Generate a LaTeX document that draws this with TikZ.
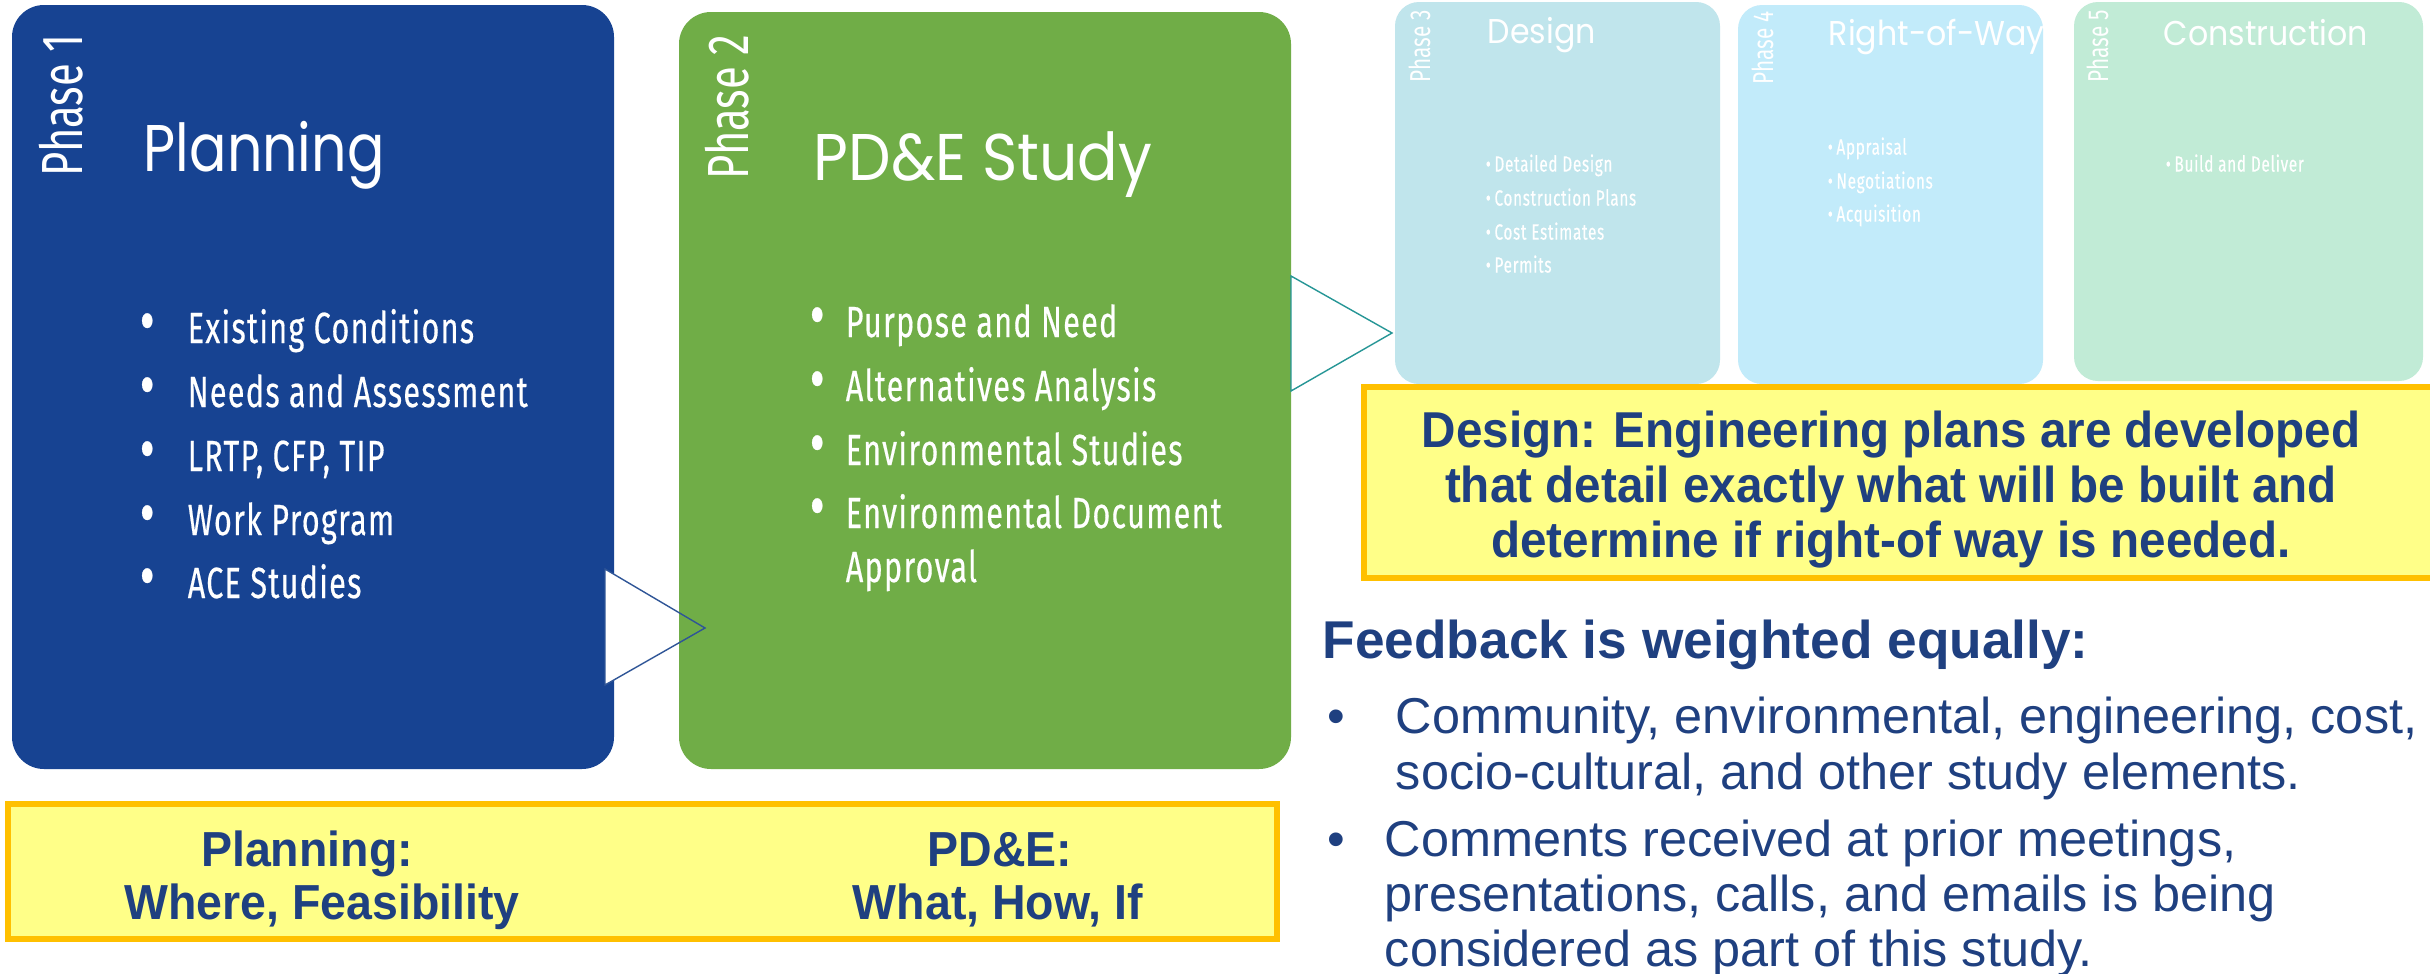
\documentclass[tikz,border=0pt]{standalone}
\usepackage{fontspec}
\setmainfont{Liberation Sans}
\newfontfamily\geoA[FakeStretch=0.84]{Poppins}
\newfontfamily\geoB[FakeStretch=0.91]{Poppins}
\newfontfamily\geoS[FakeStretch=0.92]{Poppins}
\newfontfamily\cond[FakeStretch=0.70,LetterSpace=3,FakeBold=0.4]{Fira Sans}
\newfontfamily\condl[FakeStretch=0.72]{Fira Sans}
\newfontfamily\arialn[FakeStretch=0.945]{Liberation Sans}
\definecolor{pblue}{RGB}{23,67,146}
\definecolor{pgreen}{RGB}{112,173,71}
\definecolor{pthree}{RGB}{192,229,236}
\definecolor{pfour}{RGB}{194,235,250}
\definecolor{pfive}{RGB}{193,235,214}
\definecolor{yfill}{RGB}{255,255,136}
\definecolor{yborder}{RGB}{255,192,0}
\definecolor{tblue}{RGB}{31,64,128}
\definecolor{arrblue}{RGB}{47,85,151}
\definecolor{arrteal}{RGB}{38,150,150}
\newcommand{\bigbul}{\scalebox{1.5}{\textbullet}}
\begin{document}
\begin{tikzpicture}[x=0.25pt,y=-0.25pt,
  bigbox/.style={rounded corners=8pt, inner sep=0pt, draw=none},
  smallbox/.style={rounded corners=6pt, inner sep=0pt, draw=none},
  ybox/.style={fill=yfill, draw=yborder, line width=1.5pt, inner sep=0pt},
  bigtitle/.style={inner sep=0pt, anchor=base west, text=white},
  smalltitle/.style={inner sep=0pt, anchor=base west, text=white, font=\geoS\fontsize{8.6}{10}\selectfont},
  phaselbl/.style={inner sep=0pt, rotate=90, anchor=west, text=white, text height=10pt, text depth=0pt, font=\condl\fontsize{14.5}{16}\selectfont},
  smallphase/.style={inner sep=0pt, rotate=90, anchor=west, text=white, text height=5pt, text depth=0pt, font=\condl\fontsize{7.2}{8}\selectfont},
  bitem/.style={inner sep=0pt, anchor=west, text=white, text height=7.5pt, text depth=0pt, font=\cond\fontsize{10.9}{12}\selectfont},
  sitem/.style={inner sep=0pt, anchor=west, text=white, text height=3.8pt, text depth=0pt, font=\cond\fontsize{5.5}{6}\selectfont},
  ytext/.style={inner sep=0pt, text=tblue, text height=9pt, text depth=0pt, font=\arialn\bfseries\fontsize{12.6}{14}\selectfont},
  btext/.style={inner sep=0pt, text=tblue, text height=8.8pt, text depth=0pt, font=\arialn\bfseries\fontsize{12.3}{14}\selectfont},
  ftext/.style={inner sep=0pt, anchor=west, text=tblue, text height=8.9pt, text depth=0pt, font=\fontsize{12.6}{14}\selectfont},
]
\useasboundingbox (0,0) rectangle (2430,974);
\fill[white] (0,0) rectangle (2430,974);

% Phase 1 box
\node[bigbox, fill=pblue, minimum width=150.5pt, minimum height=191pt] (p1) at (313,387) {};
% arrow 1 fill (under phase 2)
\coordinate (a1t) at (605,569);
\coordinate (a1b) at (605,685);
\coordinate (a1tip) at (705,628);
\fill[white] (a1t) -- (a1tip) -- (a1b) -- cycle;
% Phase 2 box
\node[bigbox, fill=pgreen, minimum width=153pt, minimum height=189.25pt] (p2) at (985,390.5) {};
\draw[arrblue, line width=0.35pt] (a1t) -- (a1tip) -- (a1b) -- cycle;

% Phase 3-5 boxes
\node[smallbox, fill=pthree, minimum width=81.25pt, minimum height=95.5pt] (p3) at (1557.5,193) {};
\node[smallbox, fill=pfour, minimum width=76.25pt, minimum height=94.75pt] (p4) at (1890.5,194.5) {};
\node[smallbox, fill=pfive, minimum width=87.25pt, minimum height=94.75pt] (p5) at (2248.5,191.5) {};

% arrow 2
\coordinate (a2t) at (1291,276);
\coordinate (a2b) at (1291,391);
\coordinate (a2tip) at (1392,333);
\draw[arrteal, fill=white, line width=0.35pt] (a2t) -- (a2tip) -- (a2b) -- cycle;

% Phase 1 content
\node[phaselbl] (ph1) at (62,177) {Phase 1};
\node[bigtitle, font=\geoA\fontsize{16.5}{18}\selectfont] (t1) at (143,171) {Planning};
\node[bitem] (b11) at (139,328) {\makebox[12pt][l]{\bigbul}Existing Conditions};
\node[bitem] (b12) at (139,392) {\makebox[12pt][l]{\bigbul}Needs and Assessment};
\node[bitem] (b13) at (139,456) {\makebox[12pt][l]{\bigbul}LRTP, CFP, TIP};
\node[bitem] (b14) at (139,520) {\makebox[12pt][l]{\bigbul}Work Program};
\node[bitem] (b15) at (139,583) {\makebox[12pt][l]{\bigbul}ACE Studies};

% Phase 2 content
\node[phaselbl] (ph2) at (728,180) {Phase 2};
\node[bigtitle, font=\geoB\fontsize{16.5}{18}\selectfont] (t2) at (813,180) {PD\&E Study};
\node[bitem] (b21) at (809,322) {\makebox[9pt][l]{\bigbul}Purpose and Need};
\node[bitem] (b22) at (809,386) {\makebox[9pt][l]{\bigbul}Alternatives Analysis};
\node[bitem] (b23) at (809,450) {\makebox[9pt][l]{\bigbul}Environmental Studies};
\node[bitem] (b24) at (809,513) {\makebox[9pt][l]{\bigbul}Environmental Document};
\node[bitem] (b25) at (809,567) {\makebox[9pt][l]{}Approval};

% Phase 3
\node[smallphase] (ph3) at (1420,83) {Phase 3};
\node[smalltitle] (t3) at (1487,43) {Design};
\node[sitem] (b31) at (1485,164) {\textbullet\,Detailed Design};
\node[sitem] (b32) at (1485,198) {\textbullet\,Construction Plans};
\node[sitem] (b33) at (1485,232) {\textbullet\,Cost Estimates};
\node[sitem] (b34) at (1485,265) {\textbullet\,Permits};

% Phase 4
\node[smallphase] (ph4) at (1763,85) {Phase 4};
\node[smalltitle] (t4) at (1828,45) {Right-of-Way};
\node[sitem] (b41) at (1827,147) {\textbullet\,Appraisal};
\node[sitem] (b42) at (1827,181) {\textbullet\,Negotiations};
\node[sitem] (b43) at (1827,214) {\textbullet\,Acquisition};

% Phase 5
\node[smallphase] (ph5) at (2098,83) {Phase 5};
\node[smalltitle] (t5) at (2163,45) {Construction};
\node[sitem] (b51) at (2165,164) {\textbullet\,Build and Deliver};

% Yellow design box
\node[ybox, minimum width=268pt, minimum height=47.75pt] (yd) at (1900,482.5) {};
\node[ytext] (yd1) at (1891,429) {Design: Engineering plans are developed};
\node[ytext] (yd2) at (1891,484) {that detail exactly what will be built and};
\node[ytext] (yd3) at (1891,539) {determine if right-of way is needed.};

% Feedback
\node[inner sep=0pt, anchor=west, text=tblue, text height=9.4pt, text depth=0pt, font=\bfseries\fontsize{13.3}{15}\selectfont] (fh) at (1322,640) {Feedback is weighted equally:};
\node[ftext] (fb1) at (1327,716) {\textbullet};
\node[ftext] (f11) at (1395,716) {Community, environmental, engineering, cost,};
\node[ftext] (f12) at (1395,772) {socio-cultural, and other study elements.};
\node[ftext] (fb2) at (1327,839) {\textbullet};
\node[ftext] (f21) at (1384,839) {Comments received at prior meetings,};
\node[ftext] (f22) at (1384,894) {presentations, calls, and emails is being};
\node[ftext] (f23) at (1384,949) {considered as part of this study.};

% Bottom yellow box
\node[ybox, minimum width=317.25pt, minimum height=33.75pt] (yb) at (642.5,871.5) {};
\node[btext] (yb1) at (307,849) {Planning:};
\node[btext] (yb2) at (322,902) {Where, Feasibility};
\node[btext] (yb3) at (1000,849) {PD\&E:};
\node[btext] (yb4) at (998,902) {What, How, If};
\end{tikzpicture}
\end{document}
